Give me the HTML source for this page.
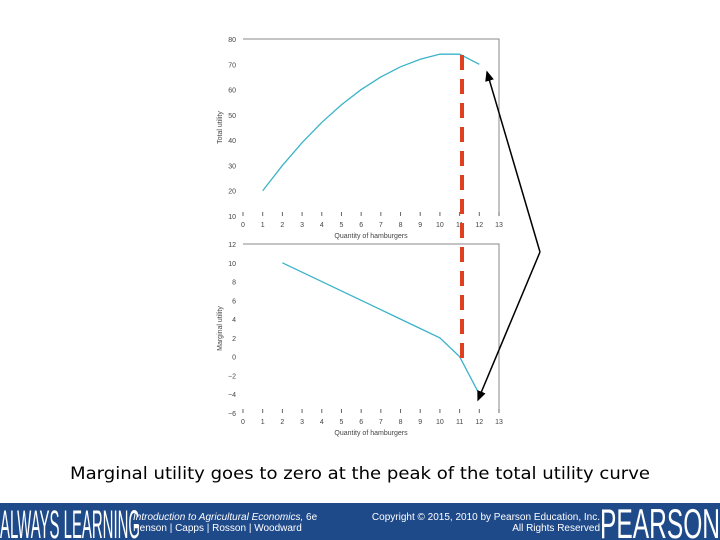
<!DOCTYPE html>
<html><head><meta charset="utf-8"><style>
html,body{margin:0;padding:0;background:#fff;width:720px;height:540px;overflow:hidden}
svg{display:block;font-family:"Liberation Sans",sans-serif}
</style></head><body>
<svg id="s" width="720" height="540" viewBox="0 0 720 540">
<defs><marker id="ah" markerWidth="7" markerHeight="6" refX="6" refY="3" orient="auto"><path d="M0,0 L7,3 L0,6 z" fill="#000"/></marker></defs>
<g id="top"></g>
<g id="bot"></g>
<line x1="462" y1="55" x2="462" y2="360" stroke="#e0401f" stroke-width="4" stroke-dasharray="15,9"/>
<line x1="540" y1="252" x2="487" y2="72" stroke="#000" stroke-width="1.5" marker-end="url(#ah)"/>
<line x1="540" y1="252" x2="478" y2="400" stroke="#000" stroke-width="1.5" marker-end="url(#ah)"/>
<text x="360" y="479" text-anchor="middle" font-family="DejaVu Sans,sans-serif" font-size="17" textLength="580" lengthAdjust="spacingAndGlyphs" fill="#000">Marginal utility goes to zero at the peak of the total utility curve</text>
<rect x="0" y="503" width="720" height="37" fill="#1f4a8a"/>
<text x="0" y="538" fill="#fff" font-size="40" textLength="140" lengthAdjust="spacingAndGlyphs">ALWAYS LEARNING</text>
<text x="133" y="520" fill="#fff" font-size="10" font-style="italic">Introduction to Agricultural Economics, <tspan font-style="normal">6e</tspan></text>
<text x="133" y="531" fill="#fff" font-size="10">Penson | Capps | Rosson | Woodward</text>
<text x="600" y="520" fill="#fff" font-size="10" text-anchor="end">Copyright © 2015, 2010 by Pearson Education, Inc.</text>
<text x="600" y="531" fill="#fff" font-size="10" text-anchor="end">All Rights Reserved</text>
<text x="600" y="538" fill="#fff" font-size="42" textLength="120" lengthAdjust="spacingAndGlyphs">PEARSON</text>
</svg>
<script>
const quantities=[1,2,3,4,5,6,7,8,9,10,11,12];
const totalUtility=[20,30,39,47,54,60,65,69,72,74,74,70];
const muQuantities=[2,3,4,5,6,7,8,9,10,11,12];
const marginalUtility=[10,9,8,7,6,5,4,3,2,0,-4];
const xTicks=[0,1,2,3,4,5,6,7,8,9,10,11,12,13];
const tuTicks=[10,20,30,40,50,60,70,80];
const muTicks=[-6,-4,-2,0,2,4,6,8,10,12];
const NS='http://www.w3.org/2000/svg';
const X0=243,X1=499;
const xs=v=>X0+(v-0)*(X1-X0)/13;
function mk(p,t,a){const e=document.createElementNS(NS,t);for(const k in a)e.setAttribute(k,a[k]);p.appendChild(e);return e;}
function chart(g,yTop,yBot,ymin,ymax,ticks,xv,yv,ylabel,fmt){
 const ys=v=>yBot-(v-ymin)*(yBot-yTop)/(ymax-ymin);
 const fr=mk(g,'path',{d:`M${X0},${yTop} H${X1} V${yBot}`,fill:'none',stroke:'#888','stroke-width':1});
 
 ticks.forEach(t=>{const e=mk(g,'text',{x:236,y:ys(t)+3,'text-anchor':'end','font-size':7,fill:'#444'});e.textContent=fmt(t);
  });
 xTicks.forEach(t=>{const l=mk(g,'line',{x1:xs(t),x2:xs(t),y1:yBot-4,y2:yBot,stroke:'#666'});
  
  const e=mk(g,'text',{x:xs(t),y:yBot+11,'text-anchor':'middle','font-size':7,fill:'#444'});e.textContent=t;
  });
 const xt=mk(g,'text',{x:(X0+X1)/2,y:yBot+22,'text-anchor':'middle','font-size':7,fill:'#444'});xt.textContent='Quantity of hamburgers';
 
 const ym=(yTop+yBot)/2;
 const yt=mk(g,'text',{x:222,y:ym,'text-anchor':'middle','font-size':7,fill:'#444',transform:`rotate(-90 222 ${ym})`});yt.textContent=ylabel;
 
 const pl=mk(g,'polyline',{points:xv.map((q,i)=>xs(q)+','+ys(yv[i])).join(' '),fill:'none',stroke:'#3bb3c8','stroke-width':1.3});
 
}
chart(document.getElementById('top'),39,216,10,80,tuTicks,quantities,totalUtility,'Total utility',t=>t);
chart(document.getElementById('bot'),244,413,-6,12,muTicks,muQuantities,marginalUtility,'Marginal utility',t=>t<0?'\u2212'+(-t):t);
</script>
</body></html>
